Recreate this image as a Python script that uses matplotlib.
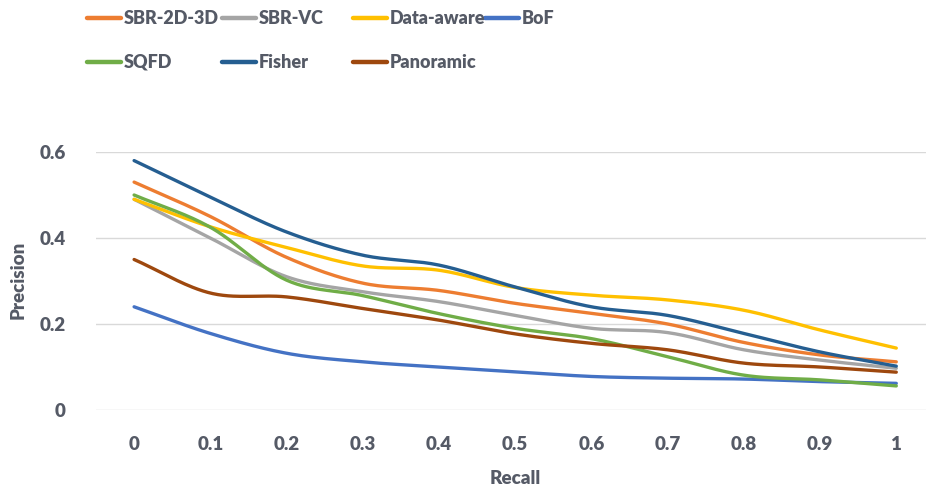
import matplotlib as mpl
mpl.use('Agg')

import matplotlib.pyplot as plt
from matplotlib.lines import Line2D
import numpy


# %% data
recall = ['0', '0.1', '0.2', '0.3', '0.4', '0.5', '0.6', '0.7', '0.8', '0.9', '1']

sbr_2d_3d  = [0.53, 0.45, 0.355, 0.295, 0.278, 0.248, 0.225, 0.200, 0.157, 0.128, 0.112]
sbr_vc     = [0.49, 0.40, 0.310, 0.275, 0.252, 0.220, 0.190, 0.180, 0.140, 0.116, 0.097]
data_aware = [0.49, 0.426, 0.378, 0.335, 0.325, 0.285, 0.267, 0.256, 0.232, 0.186, 0.144]
bof        = [0.24, 0.178, 0.132, 0.112, 0.100, 0.089, 0.078, 0.074, 0.072, 0.066, 0.062]
sqfd       = [0.50, 0.425, 0.302, 0.266, 0.224, 0.190, 0.166, 0.124, 0.081, 0.070, 0.056]
fisher     = [0.58, 0.495, 0.414, 0.360, 0.337, 0.286, 0.240, 0.220, 0.178, 0.135, 0.102]
panoramic  = [0.35, 0.272, 0.263, 0.236, 0.209, 0.177, 0.155, 0.140, 0.109, 0.100, 0.088]

names  = ['SBR-2D-3D', 'SBR-VC', 'Data-aware', 'BoF', 'SQFD', 'Fisher', 'Panoramic']
series = [sbr_2d_3d, sbr_vc, data_aware, bof, sqfd, fisher, panoramic]
colors = ['#ED7D31', '#A5A5A5', '#FFC000', '#4472C4', '#70AD47', '#255E91', '#9E480E']


# %%
def smooth(y, n=30):
    # Catmull-Rom through the points, like a "smoothed line" chart
    y = numpy.asarray(y, dtype=float)
    x = numpy.arange(len(y), dtype=float)
    px = numpy.concatenate([[2*x[0]-x[1]], x, [2*x[-1]-x[-2]]])
    py = numpy.concatenate([[2*y[0]-y[1]], y, [2*y[-1]-y[-2]]])
    xs, ys = [], []
    t = numpy.linspace(0, 1, n, endpoint=False)
    for i in range(1, len(px)-2):
        for p, out in ((px, xs), (py, ys)):
            p0, p1, p2, p3 = p[i-1], p[i], p[i+1], p[i+2]
            out.append(0.5*((2*p1) + (-p0+p2)*t + (2*p0-5*p1+4*p2-p3)*t**2
                            + (-p0+3*p1-3*p2+p3)*t**3))
    xs.append([x[-1]])
    ys.append([y[-1]])
    return numpy.concatenate(xs), numpy.concatenate(ys)


font = ['Lato', 'DejaVu Sans']
txt_color = '#555a66'
fsize = 13.5
weight = 'heavy'

fig = plt.figure(figsize=[9.26, 4.91], dpi=100)
ax = fig.add_axes([96/926, 81/491, 830/926, 258/491])

for y, c in zip(series, colors):
    xs, ys = smooth(y)
    ax.plot(xs, ys, color=c, linewidth=2.4, solid_capstyle='round', clip_on=False)

ax.set_xlim(-0.5, 10.39)
ax.set_ylim(0, 0.6)
ax.set_yticks([0, 0.2, 0.4, 0.6])
ax.set_yticklabels(['0', '0.2', '0.4', '0.6'])
ax.set_xticks(numpy.arange(len(recall)))
ax.set_xticklabels(recall)

ax.grid(axis='y', color='#D9D9D9', linewidth=1.0)
ax.set_axisbelow(True)
for s in ax.spines.values():
    s.set_visible(False)
ax.tick_params(length=0, labelsize=fsize, labelcolor=txt_color)
ax.tick_params(axis='x', pad=19)
ax.tick_params(axis='y', pad=22)
for lab in ax.get_xticklabels() + ax.get_yticklabels():
    lab.set_family(font)
    lab.set_fontweight(weight)

fig.text(515/926, (491-478)/491, 'Recall', ha='center', va='center',
         fontsize=fsize, fontweight=weight, color=txt_color, family=font)
fig.text(18/926, (491-280)/491, 'Precision', ha='center', va='center', rotation=90,
         fontsize=fsize, fontweight=weight, color=txt_color, family=font)

# legend laid out on a fixed grid
col_x = [87, 222, 353, 485]
row_y = [18, 62]
for k, (name, c) in enumerate(zip(names, colors)):
    x0 = col_x[k % 4]
    y0 = (491 - row_y[k // 4]) / 491
    fig.add_artist(Line2D([x0/926, (x0+34)/926], [y0, y0], color=c, linewidth=3.2,
                          solid_capstyle='round', transform=fig.transFigure))
    fig.text((x0+37)/926, y0, name, ha='left', va='center', fontsize=13,
             fontweight=weight, color=txt_color, family=font)

plt.savefig('out.png', dpi=100)
